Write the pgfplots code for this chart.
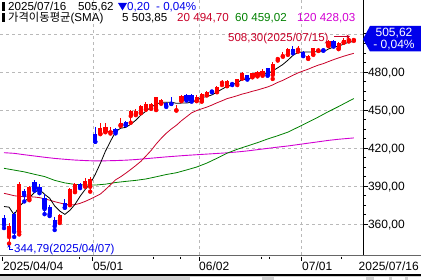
\documentclass[border=0pt]{standalone}
\usepackage{pgfplots}
\pgfplotsset{compat=1.18}
\usepackage{pgfplotstable}
\usetikzlibrary{arrows.meta}
\usepackage{fontspec}
\setmainfont{Liberation Sans}
\newfontfamily\kr{Noto Sans CJK KR}
\definecolor{cRed}{RGB}{255,0,0}
\definecolor{cBlue}{RGB}{0,0,255}
\definecolor{maRed}{RGB}{200,0,40}
\definecolor{maGreen}{RGB}{0,128,0}
\definecolor{maMag}{RGB}{210,0,210}
\definecolor{gridc}{RGB}{185,185,185}
\definecolor{boxBlue}{RGB}{0,0,235}
\newcommand\fs{\fontsize{12bp}{14bp}\selectfont}
\newcommand\hs{\fontsize{11.6bp}{13bp}\selectfont}

% rising candles (close > open): index open high low close
\pgfplotstableread{
x o h l c
1 350 361 344.79 359
3 354 393.5 352 392
5 380 390.5 379 389.5
11 362.8 368 361 367.3
13 375.7 388.3 375 387.8
14 385.7 392.8 385.3 391.7
16 390.9 396.2 389.6 394.4
17 389.6 397 385.7 395.4
19 431.5 439.5 431 435.6
20 433 439.5 432.5 436.9
21 432.5 437 431.5 433.8
23 438.2 443.5 437.5 439.5
25 445.3 450.2 440 449.5
26 446.9 450.5 446 449.5
27 448 454 447.5 453.2
28 450.6 456.6 450.3 454.8
29 451.4 455.5 451 454.8
30 450.6 460.5 450 460
31 455.3 459 455 458
34 449.8 454 449.6 450.3
35 457.4 461.5 457 461
38 457.4 462 457 460.5
39 457 463.2 456.6 462.7
40 461.9 465 461.5 464.5
42 464.5 469 464 468.4
43 471.5 473.7 469.7 472.4
44 469 473.5 468.8 473.2
46 470.5 474.8 469.7 474.2
47 475 480 474.8 479.5
49 476 479.5 475.8 479
50 476.8 481 476.5 480.2
51 477.6 482 477 481
53 477.6 488.1 474.5 486.5
54 490.2 492 489 491
55 492.5 495.5 492 493.5
56 493.9 498.6 493.5 498
58 497.6 500.7 496 498.2
60 490.7 493.2 490.3 492.8
61 493.9 499.2 493.5 498.6
62 497 498.5 496.6 497.6
64 500.7 505 500.3 504.4
66 498.6 503.8 498 502.5
67 503.5 506.5 503 505
68 505.2 508.3 504 505.82
69 505.2 506.5 504.5 505.62
}\redtab

% falling candles (close < open)
\pgfplotstableread{
x o h l c
0 365 367 357 359.5
2 368 370 350 354
4 386 388 378 383
6 393.5 395 386.5 387.5
7 389 391.5 384.5 386
8 381 384 368 372
9 374 375 366.5 368
10 363 366 355.5 358.5
12 376.5 380 373 373.3
15 391.7 392.8 388.5 389.8
18 430.9 436.9 425 425.1
22 434.8 435.5 431.6 432.7
24 440.8 441.3 438 438.7
32 455.8 456.5 452.5 453.2
33 455.5 460 454.8 455
36 461.9 462.5 457.5 457.9
37 461.9 462.5 456.6 457.4
41 465.3 466 464 464.6
45 471.6 472 469.7 470.5
48 477.6 478 474 474.6
52 482.9 483.5 477 477.6
57 498.1 500.7 494.7 496.5
59 496 496.5 492.5 492.8
63 497.6 498 496.8 497.1
65 504.4 505 500 500.5
}\bluetab

\pgfplotstableread{
x y
0 374
1 373.5
2 367.5
3 374
4 378
5 381
6 385
7 387.5
8 383.6
9 380.6
10 374.4
11 370.4
12 367.8
13 371
14 375.7
15 382
16 387.4
17 391.8
18 399.3
19 408
20 417.5
21 425.4
22 432.8
23 435.7
24 436.3
25 438.8
26 442
27 446.1
28 449.1
29 452.4
30 454.5
31 456.2
32 456.2
33 456.2
34 455.3
35 455.5
36 455.5
37 456.3
38 457.4
39 459.9
40 460.6
41 461.9
42 464.1
43 466.5
44 468.6
45 469.8
46 471.7
47 474
48 474.4
49 475.6
50 477.5
51 478.9
52 478.5
53 480.9
54 483.3
55 485.9
56 489.3
57 493.1
58 495.4
59 495.8
60 495.7
61 495.8
62 496
63 495.8
64 498.1
65 499.6
66 500.4
67 501.9
68 503.6
69 503.85
}\maFive

\pgfplotstableread{
x y
0 384.4
1 383.5
2 382.5
3 382
4 381.7
5 381.7
6 381.5
7 381
8 380
9 379
10 377.8
11 376.8
12 375.8
13 375.2
14 375.5
15 376.5
16 378
17 379.8
18 381.8
19 383.8
20 387.3
21 391.1
22 395
23 397.4
24 400.2
25 403.2
26 406.3
27 409.6
28 413.8
29 418.1
30 423.2
31 427.7
32 431.7
33 435.1
34 438
35 441.6
36 444.7
37 447.8
38 449.6
39 451
40 452.3
41 453.9
42 455.7
43 457.3
44 459
45 460.1
46 461.3
47 462.6
48 463.6
49 464.8
50 465.8
51 467
52 468.2
53 469.8
54 471.8
55 473.4
56 475.4
57 477.4
58 479.3
59 480.8
60 482.2
61 483.9
62 485.4
63 486.6
64 488.2
65 489.7
66 491.1
67 492.4
68 493.6
69 494.7
}\maTwenty

\pgfplotstableread{
x y
0 404.1
2 402.7
4 401.3
6 399.4
8 397.6
10 394.6
12 392.6
14 391.4
16 390.9
18 390.9
20 391.6
22 392.9
24 393.8
26 394.6
28 395.7
30 397.4
32 399.2
34 400.6
36 402.8
38 405.1
40 408.2
42 412
44 416
46 419.1
48 421.7
50 424.3
52 427.2
54 429.8
56 432.6
58 436.5
60 440.5
62 444.5
64 448.8
66 452.8
68 457
69 459.02
}\maSixty

\pgfplotstableread{
x y
0 416.4
2 415.9
4 414.8
6 413.8
8 412.8
10 411.9
12 411.2
14 410.6
16 410.2
18 409.9
20 410
22 410.2
24 410.5
26 411
28 411.7
30 412.4
32 413.1
34 413.7
36 414.3
38 414.8
40 415.3
42 415.8
44 416.3
46 417
48 417.8
50 418.8
52 419.8
54 420.8
56 421.7
58 422.8
60 423.9
62 425
64 426.1
66 427
68 427.7
69 428.03
}\maOneTwenty

\begin{document}
\begin{tikzpicture}
\begin{axis}[
  scale only axis, width=363bp, height=255bp,
  at={(0,0)}, anchor=south west,
  xmin=-0.789, xmax=70.81, ymin=335.8, ymax=536.7,
  axis line style={draw=none},
  xtick={17.554,38.462,58.580}, xticklabels={}, xtick style={draw=none},
  ytick={360,390,420,450,480,510},
  yticklabels={{360,00},{390,00},{420,00},{450,00},{480,00},{}},
  ytick pos=right, yticklabel pos=right,
  minor y tick num=3,
  tick align=outside, major tick length=4.5bp, minor tick length=3bp,
  ytick style={black, line width=0.8bp},
  minor y tick style={black, line width=0.8bp},
  yticklabel style={font=\fs, anchor=west, xshift=-3bp, yshift=-1bp},
  grid=major,
  major grid style={gridc, dash pattern=on 3bp off 3bp, line width=0.7bp},
]
% moving averages
\addplot[maMag, line width=0.9bp, mark=none] table[x=x,y=y] {\maOneTwenty};
\addplot[maGreen, line width=0.8bp, mark=none] table[x=x,y=y] {\maSixty};
\addplot[maRed, line width=0.8bp, mark=none] table[x=x,y=y] {\maTwenty};
\addplot[black, line width=0.8bp, mark=none] table[x=x,y=y] {\maFive};
% wicks and bodies
\addplot[cBlue, only marks, mark=none, error bars/.cd, y dir=plus, y explicit, error mark=none,
  error bar style={draw=cBlue, line width=1bp, line cap=butt}]
  table[x=x, y=l, y error expr=\thisrow{h}-\thisrow{l}] {\bluetab};
\addplot[cBlue, only marks, mark=none, error bars/.cd, y dir=plus, y explicit, error mark=none,
  error bar style={draw=cBlue, line width=4.2bp, line cap=butt}]
  table[x=x, y=c, y error expr=\thisrow{o}-\thisrow{c}] {\bluetab};
\addplot[cRed, only marks, mark=none, error bars/.cd, y dir=plus, y explicit, error mark=none,
  error bar style={draw=cRed, line width=1bp, line cap=butt}]
  table[x=x, y=l, y error expr=\thisrow{h}-\thisrow{l}] {\redtab};
\addplot[cRed, only marks, mark=none, error bars/.cd, y dir=plus, y explicit, error mark=none,
  error bar style={draw=cRed, line width=4.2bp, line cap=butt}]
  table[x=x, y=o, y error expr=\thisrow{c}-\thisrow{o}] {\redtab};
\end{axis}

% frame lines
\draw[black, line width=0.8bp] (363bp,0) -- (363bp,255bp);
\draw[black!60, line width=0.9bp] (0,0) -- (421bp,0);
\draw[black, line width=1.6bp] (0,-20bp) -- (421bp,-20bp);
\fill[black!18] (0,-20.8bp) rectangle (421bp,-25bp);
\fill[white] (190bp,-21.5bp) rectangle (262bp,-25bp);
\fill[white] (274bp,-21.5bp) rectangle (366bp,-25bp);
\fill[white] (374bp,-21.5bp) rectangle (389bp,-25bp);
\fill[white] (392bp,-21.5bp) rectangle (405bp,-25bp);
\fill[white] (408bp,-21.5bp) rectangle (421bp,-25bp);

% x ticks
\foreach \xx in {2.7,92.7,199,301.7} \draw[black, line width=0.8bp] (\xx bp,-1.5bp) -- (\xx bp,-6bp);
\foreach \xx in {79,153,180,261,269,341} \draw[black, line width=0.8bp] (\xx bp,-1.5bp) -- (\xx bp,-4bp);

% x labels
\node[font=\fs, anchor=base west, inner sep=0] at (3bp,-15bp) {2025/04/04};
\node[font=\fs, anchor=base west, inner sep=0] at (93bp,-15bp) {05/01};
\node[font=\fs, anchor=base west, inner sep=0] at (199bp,-15bp) {06/02};
\node[font=\fs, anchor=base west, inner sep=0] at (302bp,-15bp) {07/01};
\node[font=\fs, anchor=base east, inner sep=0] at (419bp,-15bp) {2025/07/16};

% header line 1
\fill[black] (1.7bp,244.3bp) rectangle (4.7bp,253.3bp);
\node[font=\hs, anchor=base west, inner sep=0] at (8bp,244bp) {2025/07/16};
\node[font=\hs, anchor=base west, inner sep=0] at (78bp,244bp) {505,62};
\fill[boxBlue] (118bp,252bp) -- (127bp,252bp) -- (122.5bp,244.5bp) -- cycle;
\node[font=\hs, text=boxBlue, anchor=base west, inner sep=0] at (127bp,244bp) {0,20};
\node[font=\hs, text=boxBlue, anchor=base west, inner sep=0] at (156bp,244bp) {- 0,04\%};
% header line 2
\fill[black] (1.7bp,233.3bp) rectangle (4.7bp,242.3bp);
\node[font=\hs, anchor=base west, inner sep=0] at (8bp,233bp) {{\kr\fontsize{11.3bp}{13bp}\selectfont 가격이동평균}(SMA)};
\node[font=\hs, anchor=base west, inner sep=0] at (122bp,233bp) {5 503,85};
\node[font=\hs, text=maRed, anchor=base west, inner sep=0] at (177bp,233bp) {20 494,70};
\node[font=\hs, text=maGreen, anchor=base west, inner sep=0] at (235bp,233bp) {60 459,02};
\node[font=\hs, text=maMag, anchor=base west, inner sep=0] at (297bp,233bp) {120 428,03};

% high annotation
\node[font=\fontsize{11.5bp}{13bp}\selectfont, text=maRed, anchor=base west, inner sep=0] at (228bp,213.5bp) {508,30(2025/07/15)};
\draw[maRed, line width=0.9bp, -{Stealth[length=3.5bp,width=3.5bp]}] (334bp,218.5bp) -- (350bp,218.5bp);
% low annotation
\node[font=\fontsize{11.5bp}{13bp}\selectfont, text=boxBlue, anchor=base west, inner sep=0] at (14bp,3bp) {344,79(2025/04/07)};
\draw[boxBlue, line width=0.8bp, -{Stealth[length=3bp,width=3bp]}] (13bp,5.5bp) -- (9bp,5.5bp) -- (9bp,10.5bp);

% price box
\fill[boxBlue] (363bp,216bp) -- (370bp,229bp) -- (421bp,229bp) -- (421bp,203.5bp) -- (370bp,203.5bp) -- cycle;
\node[font=\fs, text=white, anchor=base, inner sep=0] at (394bp,218bp) {505,62};
\node[font=\fs, text=white, anchor=base, inner sep=0] at (394bp,206bp) {- 0,04\%};

\pgfresetboundingbox
\useasboundingbox (0,-25bp) rectangle (421bp,255bp);
\end{tikzpicture}
\end{document}
